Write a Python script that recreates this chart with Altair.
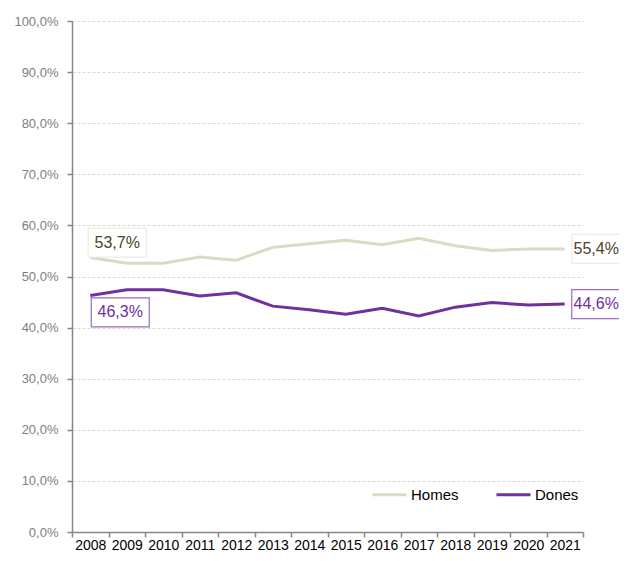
import altair as alt
import pandas as pd

years = [2008, 2009, 2010, 2011, 2012, 2013, 2014, 2015, 2016, 2017, 2018, 2019, 2020, 2021]
homes = [53.7, 52.6, 52.6, 53.8, 53.2, 55.7, 56.4, 57.1, 56.2, 57.5, 56.0, 55.1, 55.4, 55.4]
dones = [46.3, 47.4, 47.4, 46.2, 46.8, 44.2, 43.5, 42.6, 43.8, 42.3, 44.0, 44.9, 44.4, 44.6]
series = ["Homes", "Dones"]
colors = ["#DDD9C3", "#7030A0"]
text_colors = ["#4A452A", "#7030A0"]
box_strokes = ["#EEECE1", "#9A6BC4"]

rows = []
for name, vals in zip(series, [homes, dones]):
    for y, v in zip(years, vals):
        rows.append({"any": y, "serie": name, "valor": v / 100.0,
                     "etiqueta": f"{v:.1f}%".replace(".", ",")})
df = pd.DataFrame(rows)

FONT = "Liberation Sans"
tick_vals = [y - 0.5 for y in years] + [years[-1] + 0.5]

x_enc = alt.X("any:Q",
              scale=alt.Scale(domain=[years[0] - 0.5, years[-1] + 0.5], nice=False, zero=False),
              axis=alt.Axis(values=tick_vals, tickCount=30, title=None, grid=False,
                            labelExpr="datum.value < 2021 ? format(datum.value + 0.5, 'd') : ''",
                            labelOffset=18.25, labelOverlap=False, labelFlush=False, labelBound=False,
                            labelFont=FONT, labelFontSize=14, labelColor="#000000", labelPadding=1,
                            domainColor="#868686", domainWidth=1.5, tickColor="#868686",
                            tickSize=5, tickWidth=1.5))
y_enc = alt.Y("valor:Q",
              scale=alt.Scale(domain=[0, 1], nice=False),
              axis=alt.Axis(values=[i / 10 for i in range(11)], tickCount=20, title=None,
                            labelExpr="replace(format(datum.value, '.1%'), '.', ',')",
                            labelFont=FONT, labelFontSize=13, labelColor="#808080", labelPadding=9,
                            domainColor="#868686", domainWidth=1.5, tickColor="#868686",
                            tickSize=5, tickWidth=1.5,
                            grid=True, gridColor="#D9D9D9", gridDash=[3, 2], gridWidth=1))

color_enc = alt.Color("serie:N", scale=alt.Scale(domain=series, range=colors),
                      legend=alt.Legend(title=None, orient="none", legendX=299, legendY=455,
                                        direction="horizontal", symbolType="stroke",
                                        symbolSize=1156, symbolStrokeWidth=3,
                                        labelFont=FONT, labelFontSize=15, labelColor="#000000",
                                        labelOffset=3, columnPadding=31, padding=0))

base = alt.Chart(df)
lines = base.mark_line(strokeWidth=3).encode(x=x_enc, y=y_enc, color=color_enc)

box_shape = "M-1,-0.5L1,-0.5L1,0.5L-1,0.5Z"


def label(name, year, bdx, tdx, dy, idx):
    sub = base.transform_filter((alt.datum.serie == name) & (alt.datum.any == year))
    box = sub.mark_point(shape=box_shape, size=58 * 58, filled=True, fill="white", opacity=1,
                         stroke=box_strokes[idx], strokeWidth=1.2,
                         xOffset=bdx, yOffset=dy).encode(x="any:Q", y="valor:Q")
    txt = sub.mark_text(font=FONT, fontSize=16, color=text_colors[idx], align="center",
                        baseline="middle", dx=tdx, dy=dy).encode(x="any:Q", y="valor:Q",
                                                                  text="etiqueta:N")
    return [box, txt]


layers = [lines]
layers += label("Homes", years[0], 27, 27, -15, 0)
layers += label("Dones", years[0], 30, 30, 17, 1)
layers += label("Homes", years[-1], 36, 31.5, 0, 0)
layers += label("Dones", years[-1], 36, 31.5, 0, 1)

chart = alt.layer(*layers).properties(
    width=511, height=511,
    autosize=alt.AutoSizeParams(type="none"),
    padding={"left": 64, "top": 13, "right": 36, "bottom": 20}
).configure_view(stroke=None)

chart.save("out.html", embed_options={"renderer": "svg", "actions": False})
